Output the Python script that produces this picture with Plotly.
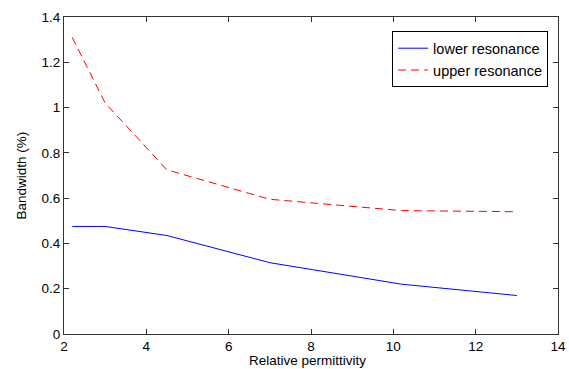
import plotly.graph_objects as go

permittivity = [2.2, 3, 4.5, 7, 10.2, 13]
lower_bw = [0.475, 0.475, 0.435, 0.315, 0.22, 0.17]
upper_bw = [1.31, 1.02, 0.725, 0.595, 0.545, 0.54]

x_ticks = [2, 4, 6, 8, 10, 12, 14]
y_ticks = [0, 0.2, 0.4, 0.6, 0.8, 1, 1.2, 1.4]
y_ticktext = ["0", "0.2", "0.4", "0.6", "0.8", "1", "1.2", "1.4"]

fig = go.Figure()
fig.add_trace(go.Scatter(x=permittivity, y=lower_bw, mode="lines", name="lower resonance",
                         line=dict(color="#0000ff", width=1)))
fig.add_trace(go.Scatter(x=permittivity, y=upper_bw, mode="lines", name="upper resonance",
                         line=dict(color="#ff0000", width=1, dash="8px,5px")))

axis_common = dict(showgrid=False, zeroline=False, showline=True, linecolor="#333333",
                   linewidth=1, mirror="allticks", ticks="inside", ticklen=5,
                   tickcolor="#333333", tickfont=dict(size=13.5, color="#000000"),
                   automargin=False)

fig.update_layout(
    width=569, height=369,
    margin=dict(l=64, r=11, t=17, b=35),
    paper_bgcolor="white", plot_bgcolor="white",
    font=dict(family="Liberation Sans, Arial, sans-serif", color="#000000"),
    xaxis=dict(range=[2, 14], tickvals=x_ticks, **axis_common),
    yaxis=dict(range=[0, 1.4], tickvals=y_ticks, ticktext=y_ticktext, **axis_common),
    legend=dict(x=0.98, y=0.955, xanchor="right", yanchor="top",
                bgcolor="white", bordercolor="#000000", borderwidth=1,
                font=dict(size=14.5), tracegroupgap=0, itemwidth=30),
    showlegend=True,
    annotations=[
        dict(text="Relative permittivity", xref="paper", yref="paper", x=0.492, y=-0.083,
             xanchor="center", yanchor="middle", showarrow=False, font=dict(size=13.5)),
        dict(text="Bandwidth (%)", xref="paper", yref="paper", x=-0.087, y=0.5,
             xanchor="center", yanchor="middle", showarrow=False, textangle=-90,
             font=dict(size=13.5)),
    ],
)

fig.write_html("out.html",
               config={"displayModeBar": False},
               post_script="document.body.style.margin='0';document.body.style.overflow='hidden';")
